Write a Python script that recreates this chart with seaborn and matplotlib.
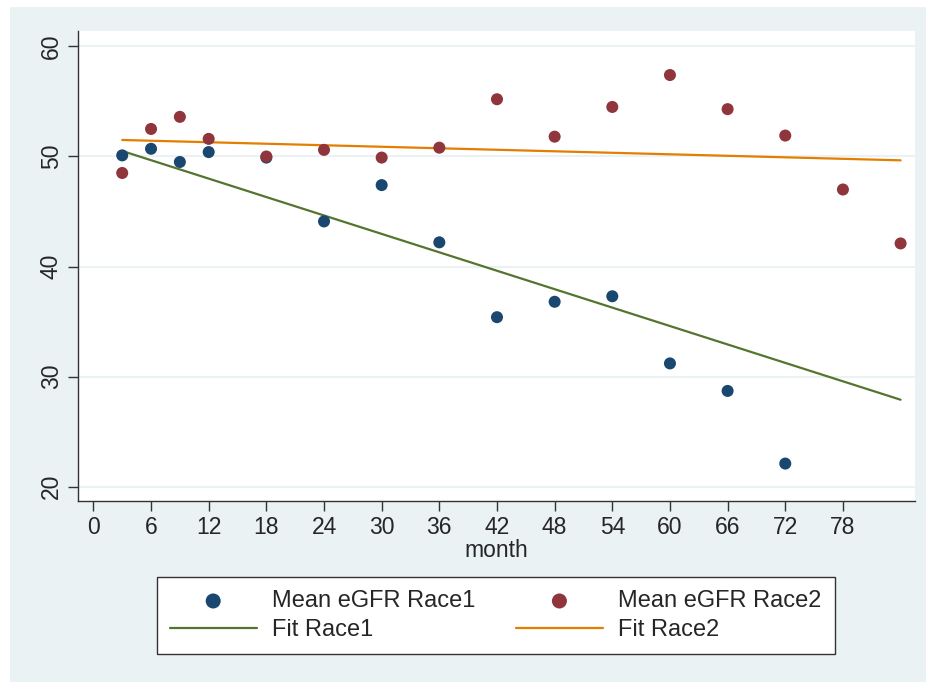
import numpy as np
import pandas as pd
import seaborn as sns
from matplotlib import pyplot as plt
from matplotlib.patches import Rectangle

# mean eGFR by month
month_race1 = [3, 6, 9, 12, 18, 24, 30, 36, 42, 48, 54, 60, 66, 72]
egfr_race1 = [50.1, 50.7, 49.5, 50.4, 49.9, 44.1, 47.4, 42.2, 35.4, 36.8, 37.3, 31.2, 28.7, 22.1]
month_race2 = [3, 6, 9, 12, 18, 24, 30, 36, 42, 48, 54, 60, 66, 72, 78, 84]
egfr_race2 = [48.5, 52.5, 53.6, 51.6, 50.0, 50.6, 49.9, 50.8, 55.2, 51.8, 54.5, 57.4, 54.3, 51.9, 47.0, 42.1]

# fitted lines (end points)
fit_month = [3, 84]
fit_race1 = [50.5, 27.9]
fit_race2 = [51.5, 49.65]

x_ticks = [0, 6, 12, 18, 24, 30, 36, 42, 48, 54, 60, 66, 72, 78]
y_ticks = [20, 30, 40, 50, 60]

navy = "#1a476f"
maroon = "#90353b"
green = "#55752f"
orange = "#e37e00"
bg = "#eaf2f3"

sns.set_style("white")
plt.rcParams['font.family'] = ['Liberation Sans', 'DejaVu Sans']

df1 = pd.DataFrame({"month": month_race1, "egfr": egfr_race1})
df2 = pd.DataFrame({"month": month_race2, "egfr": egfr_race2})
fit = pd.DataFrame({"month": fit_month, "r1": fit_race1, "r2": fit_race2})

fig = plt.figure(figsize=(9.26, 6.82), dpi=100)
fig.patch.set_facecolor("white")
fig.patches.append(Rectangle((10 / 926, 0), 1, 1 - 7 / 682, transform=fig.transFigure,
                             facecolor=bg, edgecolor="none", zorder=-10))
ax = fig.add_axes([78 / 926, 1 - 501 / 682, (915 - 78) / 926, (501 - 31) / 682])
ax.set_facecolor("white")

for yv in y_ticks:
    ax.axhline(yv, color=bg, lw=1.5, zorder=0)

sns.scatterplot(data=df1, x="month", y="egfr", ax=ax, color=navy, s=75,
                edgecolor="none", label="Mean eGFR Race1", zorder=3)
sns.lineplot(data=fit, x="month", y="r1", ax=ax, color=green, lw=1.6,
             label="Fit Race1", zorder=2)
sns.scatterplot(data=df2, x="month", y="egfr", ax=ax, color=maroon, s=75,
                edgecolor="none", label="Mean eGFR Race2", zorder=3)
sns.lineplot(data=fit, x="month", y="r2", ax=ax, color=orange, lw=1.6,
             label="Fit Race2", zorder=2)

ax.set_xlim(-1.6, 85.5)
ax.set_ylim(18.7, 61.4)
ax.set_xticks(x_ticks)
ax.set_yticks(y_ticks)
ax.tick_params(axis="both", direction="out", length=7, width=1, color="#333333",
               labelsize=16.5, pad=4, left=True, bottom=True)
for lab in ax.get_yticklabels():
    lab.set_rotation(90)
    lab.set_va("center")
ax.set_xlabel("month", fontsize=16.5, labelpad=0)
ax.set_ylabel("")
for side in ["top", "right"]:
    ax.spines[side].set_visible(False)
for side in ["left", "bottom"]:
    ax.spines[side].set_color("#333333")
    ax.spines[side].set_linewidth(1)

handles, labels = ax.get_legend_handles_labels()
leg = ax.legend(handles, labels, ncol=2, loc="upper center",
                bbox_to_anchor=(0.499, -0.137), fontsize=17, frameon=True,
                fancybox=False, edgecolor="#333333", framealpha=1,
                borderpad=0.55, handlelength=3.7, columnspacing=1.7,
                handletextpad=0.65, labelspacing=0.3, markerscale=1.25)
leg.get_frame().set_linewidth(1)
leg.get_frame().set_facecolor("white")

fig.savefig("out.png", dpi=100, facecolor=fig.get_facecolor())
